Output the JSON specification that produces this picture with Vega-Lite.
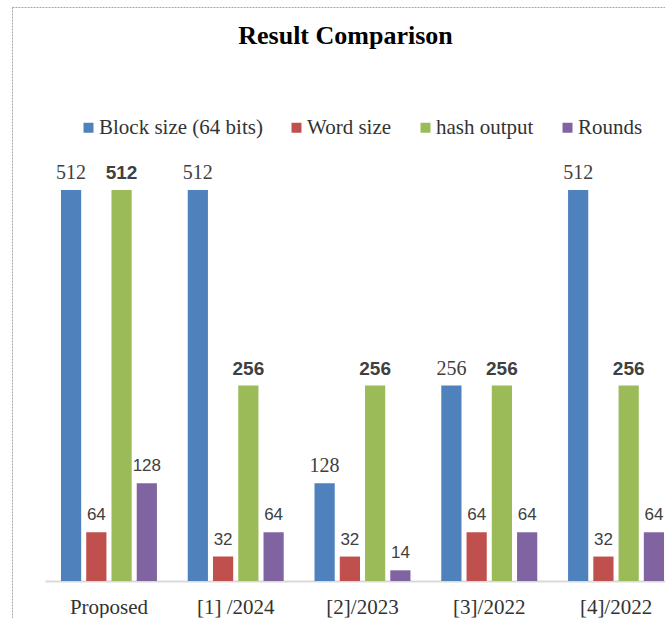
{
  "$schema": "https://vega.github.io/schema/vega-lite/v6.json",
  "width": 653,
  "height": 611,
  "autosize": {"type": "none"},
  "padding": {"left": 12, "top": 7, "right": 0, "bottom": 0},
  "background": "white",
  "config": {"view": {"stroke": "#a6a6a6", "strokeDash": [2, 1], "strokeWidth": 1}},
  "title": {"text": "Result Comparison", "font": "Liberation Serif", "fontSize": 26, "fontWeight": "bold", "color": "#000000", "anchor": "middle", "frame": "group", "baseline": "alphabetic", "offset": -63, "dx": 7},
  "data": {"values": [
    {"category": "Proposed", "series": "Block size (64 bits)", "value": 512},
    {"category": "Proposed", "series": "Word size", "value": 64},
    {"category": "Proposed", "series": "hash output", "value": 512},
    {"category": "Proposed", "series": "Rounds", "value": 128},
    {"category": "[1] /2024", "series": "Block size (64 bits)", "value": 512},
    {"category": "[1] /2024", "series": "Word size", "value": 32},
    {"category": "[1] /2024", "series": "hash output", "value": 256},
    {"category": "[1] /2024", "series": "Rounds", "value": 64},
    {"category": "[2]/2023", "series": "Block size (64 bits)", "value": 128},
    {"category": "[2]/2023", "series": "Word size", "value": 32},
    {"category": "[2]/2023", "series": "hash output", "value": 256},
    {"category": "[2]/2023", "series": "Rounds", "value": 14},
    {"category": "[3]/2022", "series": "Block size (64 bits)", "value": 256},
    {"category": "[3]/2022", "series": "Word size", "value": 64},
    {"category": "[3]/2022", "series": "hash output", "value": 256},
    {"category": "[3]/2022", "series": "Rounds", "value": 64},
    {"category": "[4]/2022", "series": "Block size (64 bits)", "value": 512},
    {"category": "[4]/2022", "series": "Word size", "value": 32},
    {"category": "[4]/2022", "series": "hash output", "value": 256},
    {"category": "[4]/2022", "series": "Rounds", "value": 64}
  ]},
  "encoding": {
    "x": {
      "field": "category", "type": "nominal",
      "sort": ["Proposed", "[1] /2024", "[2]/2023", "[3]/2022", "[4]/2022"],
      "scale": {"range": [33, 668], "paddingInner": 0.243, "paddingOuter": 0.126},
      "axis": {"title": null, "domainColor": "#d9d9d9", "domainWidth": 2, "ticks": false, "tickSize": 0, "grid": false, "labelFont": "Liberation Serif", "labelFontSize": 21, "labelColor": "#333333", "labelPadding": 26, "labelBaseline": "middle", "labelAngle": 0, "offset": -37}
    },
    "xOffset": {
      "field": "series", "type": "nominal",
      "sort": ["Block size (64 bits)", "Word size", "hash output", "Rounds"],
      "scale": {"paddingInner": 0.2, "paddingOuter": 0}
    },
    "y": {
      "field": "value", "type": "quantitative",
      "scale": {"domain": [0, 512], "range": [574, 183], "nice": false, "zero": true},
      "axis": null
    }
  },
  "layer": [
    {
      "mark": {"type": "bar", "clip": true},
      "encoding": {
        "color": {
          "field": "series", "type": "nominal",
          "scale": {"domain": ["Block size (64 bits)", "Word size", "hash output", "Rounds"], "range": ["#4F81BD", "#C0504D", "#9BBB59", "#8064A2"]},
          "legend": {"orient": "none", "legendX": 66, "legendY": 110, "direction": "horizontal", "title": null, "padding": 0, "symbolType": "square", "symbolSize": 100, "symbolStrokeWidth": 0, "labelFont": "Liberation Serif", "labelFontSize": 21, "labelColor": "#333333", "labelOffset": 0, "columnPadding": 23, "labelLimit": 300}
        }
      }
    },
    {
      "transform": [{"filter": "datum.series == 'Block size (64 bits)'"}],
      "mark": {"type": "text", "clip": true, "font": "Liberation Serif", "fontSize": 20, "baseline": "middle", "dy": -17, "color": "#404040"},
      "encoding": {"text": {"field": "value", "type": "quantitative"}}
    },
    {
      "transform": [{"filter": "datum.series == 'hash output'"}],
      "mark": {"type": "text", "clip": true, "font": "Liberation Sans", "fontWeight": "bold", "fontSize": 19, "baseline": "middle", "dy": -17, "color": "#404040"},
      "encoding": {"text": {"field": "value", "type": "quantitative"}}
    },
    {
      "transform": [{"filter": "datum.series == 'Word size' || datum.series == 'Rounds'"}],
      "mark": {"type": "text", "clip": true, "font": "Liberation Sans", "fontSize": 17, "baseline": "middle", "dy": -17, "color": "#404040"},
      "encoding": {"text": {"field": "value", "type": "quantitative"}}
    }
  ]
}
